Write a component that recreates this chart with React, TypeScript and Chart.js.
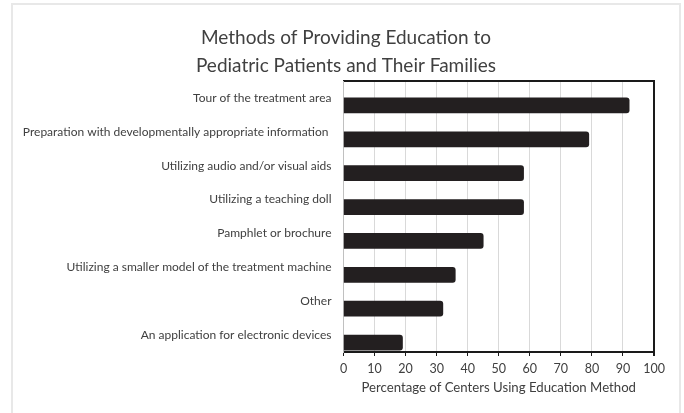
import React, { useEffect, useRef } from "react";
import { Chart, registerables } from "chart.js";

Chart.register(...registerables);

const categories = [
  "Tour of the treatment area",
  "Preparation with developmentally appropriate information ",
  "Utilizing audio and/or visual aids",
  "Utilizing a teaching doll",
  "Pamphlet or brochure",
  "Utilizing a smaller model of the treatment machine",
  "Other",
  "An application for electronic devices",
];
const percentages = [92, 79, 58, 58, 45, 36, 32, 19];
const spacer = categories.map(() => null);
const titleLines = ["Methods of Providing Education to", "Pediatric Patients and Their Families"];
const xAxisTitle = "Percentage of Centers Using Education Method";
const xMin = 0;
const xMax = 100;
const xStep = 10;

const FONT = "Lato, 'Open Sans', sans-serif";
const TEXT = "#404040";
const BAR = "#231f20";
const FRAME = "#1a1a1a";
const GRID = "#d9d9d9";

export default function App() {
  const ref = useRef<HTMLCanvasElement | null>(null);

  useEffect(() => {
    if (!ref.current) return;
    const chart = new Chart(ref.current, {
      type: "bar",
      data: {
        labels: categories,
        datasets: [
          { label: "spacer", data: spacer as any, backgroundColor: "transparent", barThickness: 15 },
          {
            label: "Percentage of centers",
            data: percentages,
            backgroundColor: BAR,
            borderRadius: 3,
            borderSkipped: "start",
            barThickness: 15,
          },
        ],
      },
      options: {
        indexAxis: "y",
        responsive: false,
        animation: false,
        devicePixelRatio: 1,
        layout: { padding: { left: 8, right: 0, top: 14, bottom: 17 } },
        plugins: {
          legend: { display: false },
          tooltip: { enabled: false },
          title: {
            display: true,
            text: titleLines,
            color: TEXT,
            font: { family: FONT, size: 19, weight: "normal", lineHeight: 28 / 19 },
            padding: { top: 10, bottom: 1 },
          },
        },
        scales: {
          x: {
            type: "linear",
            position: "bottom",
            min: xMin,
            max: xMax,
            ticks: { stepSize: xStep, color: TEXT, font: { family: FONT, size: 12.5 }, padding: 5 },
            grid: {
              color: (c: any) => (c.tick && c.tick.value === xMax ? FRAME : GRID),
              lineWidth: (c: any) => (c.tick && c.tick.value === xMax ? 2 : 1),
              tickColor: FRAME,
              tickLength: 4,
            },
            border: { color: FRAME, width: 2 },
            title: {
              display: true,
              text: xAxisTitle,
              color: TEXT,
              font: { family: FONT, size: 13.2 },
              padding: { top: 0, bottom: 0 },
            },
            afterFit: (s: any) => {
              s.height = 44;
            },
          },
          x2: {
            type: "linear",
            position: "top",
            min: xMin,
            max: xMax,
            ticks: { display: false },
            grid: { display: false, drawTicks: false },
            border: { color: FRAME, width: 2 },
            afterFit: (s: any) => {
              s.height = 0;
            },
          },
          y: {
            type: "category",
            position: "left",
            grid: { display: false, drawTicks: false },
            border: { color: "#c0c0c0", width: 1 },
            ticks: { color: TEXT, font: { family: FONT, size: 12 }, padding: 12, autoSkip: false },
            afterFit: (s: any) => {
              s.width = 335.5;
            },
          },
          yRight: {
            type: "category",
            position: "right",
            display: true,
            ticks: { display: false },
            grid: { display: false, drawTicks: false },
            border: { display: false },
            afterFit: (s: any) => {
              s.width = 30;
            },
          },
        },
      },
    });
    return () => chart.destroy();
  }, []);

  return (
    <div style={{ position: "absolute", left: 0, top: 0, width: 684, height: 413, overflow: "hidden", background: "#fff" }}>
      <div
        style={{
          position: "absolute",
          left: 11,
          top: 3,
          width: 670,
          height: 440,
          border: "2px solid #e8e8e8",
          boxSizing: "border-box",
        }}
      />
      <canvas ref={ref} width={684} height={413} style={{ position: "absolute", left: 0, top: 0 }} />
    </div>
  );
}
